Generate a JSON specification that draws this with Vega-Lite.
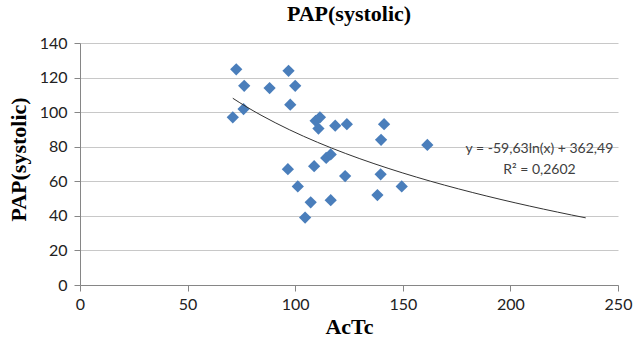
{
  "$schema": "https://vega.github.io/schema/vega-lite/v6.json",
  "width": 538,
  "height": 242,
  "autosize": {"type": "none"},
  "padding": {"left": 80, "top": 43, "right": 15, "bottom": 52},
  "background": "white",
  "title": {
    "text": "PAP(systolic)",
    "font": "Liberation Serif",
    "fontSize": 22,
    "fontWeight": "bold",
    "color": "#000000",
    "anchor": "middle",
    "offset": 9
  },
  "config": {
    "view": {"stroke": null},
    "axis": {
      "labelFont": "Lato",
      "labelFontSize": 16,
      "labelColor": "#222222",
      "labelOverlap": false,
      "labelFlush": false,
      "titleFont": "Liberation Serif",
      "titleFontSize": 22,
      "titleFontWeight": "bold",
      "titleColor": "#000000",
      "domainColor": "#868686",
      "tickColor": "#868686",
      "gridColor": "#c8c8c8",
      "tickSize": 6
    }
  },
  "encoding": {
    "x": {
      "field": "AcTc", "type": "quantitative",
      "scale": {"domain": [0, 250], "nice": false, "zero": false},
      "axis": {
        "values": [0, 50, 100, 150, 200, 250],
        "grid": false,
        "title": "AcTc",
        "titleY": 41,
        "titleBaseline": "middle",
        "labelPadding": 5,
        "labelOverlap": false
      }
    },
    "y": {
      "field": "PAP", "type": "quantitative",
      "scale": {"domain": [0, 140], "nice": false, "zero": false},
      "axis": {
        "values": [0, 20, 40, 60, 80, 100, 120, 140],
        "grid": true,
        "title": "PAP(systolic)",
        "titleX": -62,
        "titleY": 116,
        "titleAngle": 270,
        "titleAlign": "center",
        "titleBaseline": "middle",
        "labelPadding": 7,
        "labelOverlap": false
      }
    }
  },
  "layer": [
    {
      "data": {
        "values": [
          {"AcTc": 72.6, "PAP": 124.8},
          {"AcTc": 76.3, "PAP": 115.2},
          {"AcTc": 71.0, "PAP": 97.0},
          {"AcTc": 76.0, "PAP": 101.8},
          {"AcTc": 88.1, "PAP": 113.9},
          {"AcTc": 96.9, "PAP": 123.9},
          {"AcTc": 100.0, "PAP": 115.2},
          {"AcTc": 97.7, "PAP": 104.3},
          {"AcTc": 109.5, "PAP": 95.0},
          {"AcTc": 111.5, "PAP": 97.0},
          {"AcTc": 110.8, "PAP": 90.5},
          {"AcTc": 118.6, "PAP": 92.2},
          {"AcTc": 124.0, "PAP": 93.0},
          {"AcTc": 141.3, "PAP": 93.0},
          {"AcTc": 139.9, "PAP": 84.0},
          {"AcTc": 161.4, "PAP": 81.0},
          {"AcTc": 114.4, "PAP": 73.5},
          {"AcTc": 116.5, "PAP": 75.5},
          {"AcTc": 96.6, "PAP": 67.0},
          {"AcTc": 108.8, "PAP": 68.7},
          {"AcTc": 123.2, "PAP": 63.0},
          {"AcTc": 139.7, "PAP": 64.0},
          {"AcTc": 149.5, "PAP": 57.0},
          {"AcTc": 138.2, "PAP": 52.0},
          {"AcTc": 101.2, "PAP": 57.0},
          {"AcTc": 107.2, "PAP": 47.8},
          {"AcTc": 116.5, "PAP": 49.1},
          {"AcTc": 104.6, "PAP": 39.0}
        ]
      },
      "layer": [
        {
          "mark": {"type": "point", "shape": "diamond", "filled": true, "size": 150, "color": "#4a7ebb", "opacity": 1}
        },
        {
          "transform": [
            {"regression": "PAP", "on": "AcTc", "method": "log", "extent": [71, 235]}
          ],
          "mark": {"type": "line", "color": "#333333", "strokeWidth": 1}
        }
      ]
    },
    {
      "data": {
        "values": [
          {"label": "y = -59,63ln(x) + 362,49", "AcTc": 213.5, "PAP": 78.8},
          {"label": "R² = 0,2602", "AcTc": 213.5, "PAP": 66.3}
        ]
      },
      "mark": {"type": "text", "font": "Lato", "fontSize": 14, "color": "#404040", "align": "center", "baseline": "middle"},
      "encoding": {
        "text": {"field": "label"}
      }
    }
  ]
}
